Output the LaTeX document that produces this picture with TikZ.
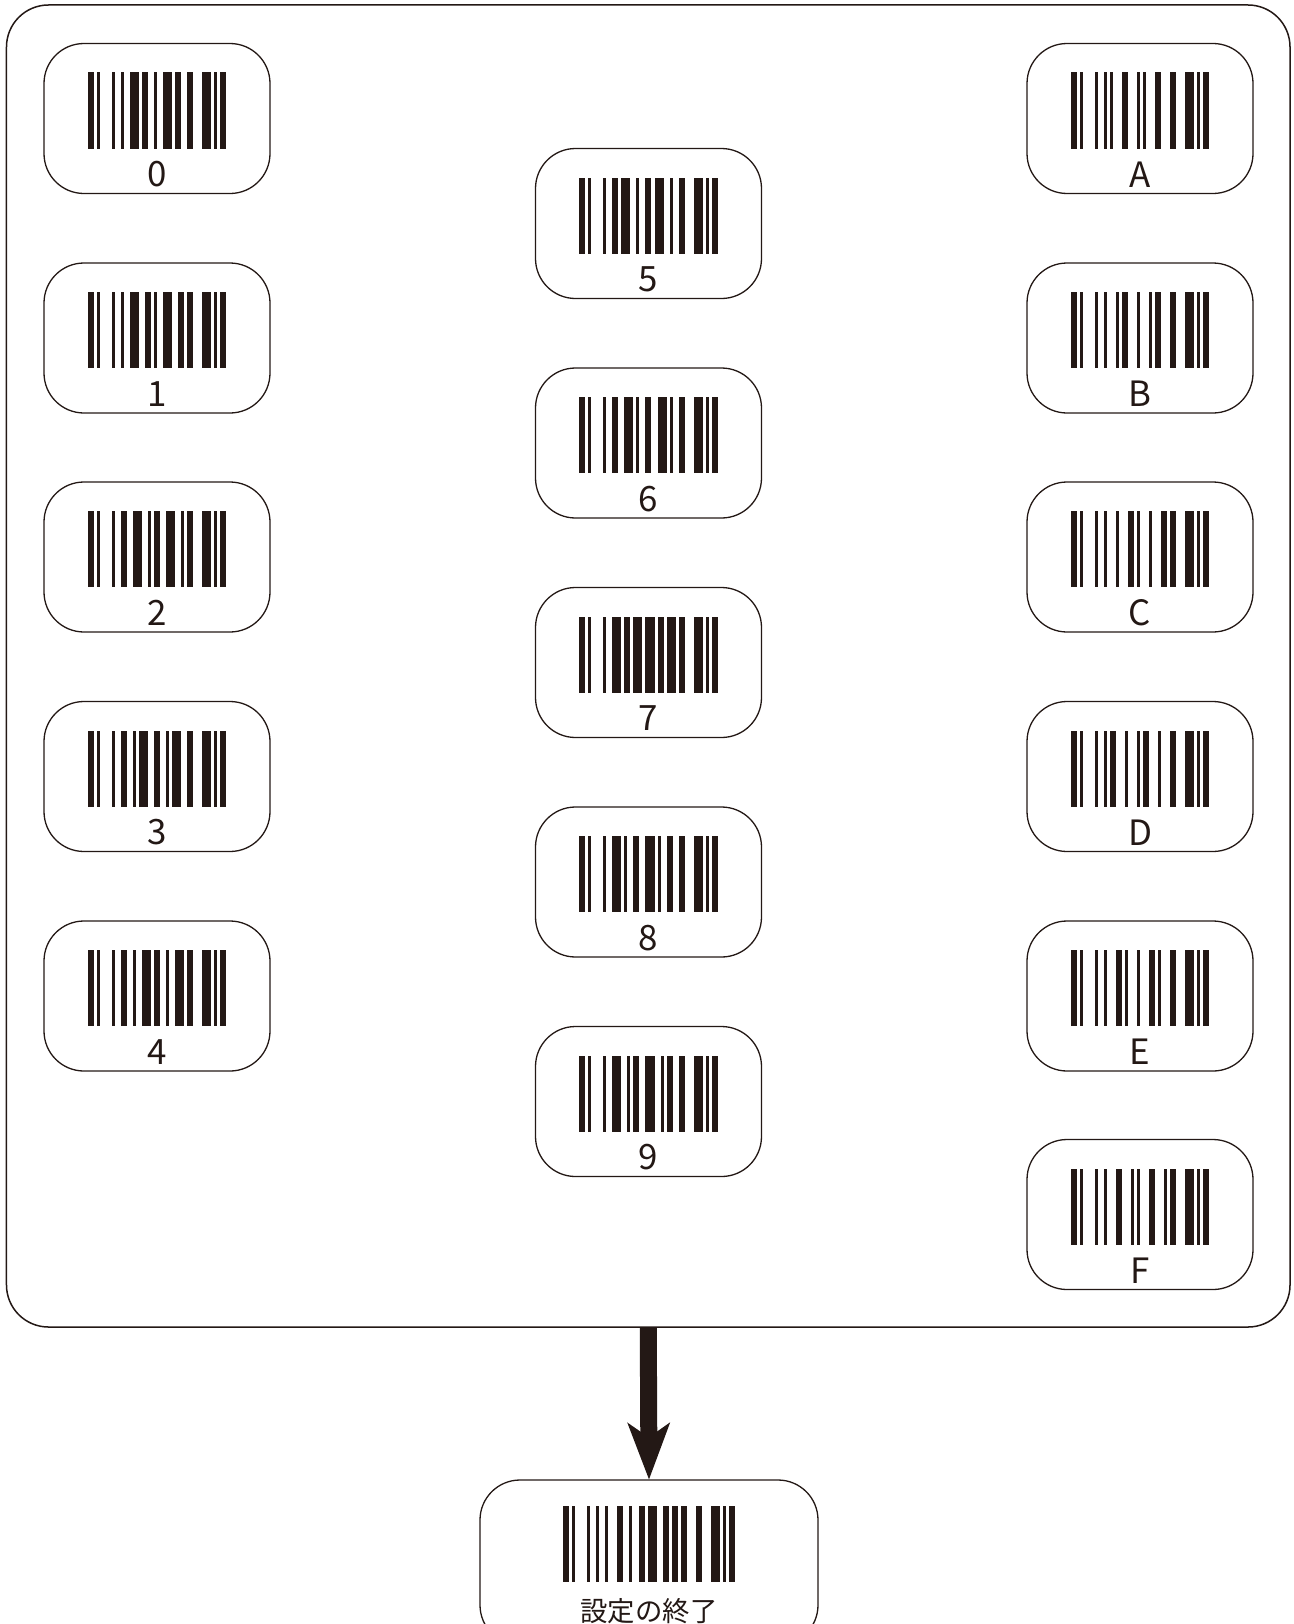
\documentclass[tikz,border=0pt]{standalone}
\usepackage{fontspec}
\setmainfont{Noto Sans CJK JP}
\usepackage{tikz}
\usetikzlibrary{arrows.meta}

\definecolor{ink}{RGB}{35,24,21}

% Code 128 bar/space widths
\def\cStart{2,1,1,4,1,2}
\def\cStop{2,3,3,1,1,1,2}
\def\cZero{1,2,3,1,2,2}
\def\cOne{1,2,3,2,2,1}
\def\cTwo{2,2,3,2,1,1}
\def\cThree{2,2,1,1,3,2}
\def\cFour{2,2,1,2,3,1}
\def\cFive{2,1,3,2,1,2}
\def\cSix{2,2,3,1,1,2}
\def\cSeven{3,1,2,1,3,1}
\def\cEight{3,1,1,2,2,2}
\def\cNine{3,2,1,1,2,2}
\def\cA{1,1,1,3,2,3}
\def\cB{1,3,1,1,2,3}
\def\cC{1,3,1,3,2,1}
\def\cD{1,1,2,3,1,3}
\def\cE{1,3,2,1,1,3}
\def\cF{1,3,2,3,1,1}
\def\cDollar{1,2,1,3,2,2}
\def\cHyphen{1,2,2,1,3,2}
\def\cCheck{2,1,2,1,2,3}

\newcount\barpos
\newcommand\barcode[3]{%
  \global\barpos=0
  \foreach \w [count=\k] in #3 {
    \ifodd\k\relax
      \fill[ink] ({#1+\the\barpos*3.02}, #2) rectangle ++(\w*3.02, 76);
    \fi
    \global\advance\barpos by \w
  }%
}

\begin{document}
\begin{tikzpicture}[x=1bp, y=-1bp,
    panel/.style={draw=ink, line width=1.5bp, rounded corners=42bp,
      minimum width=1283.5bp, minimum height=1322bp},
    codebox/.style={draw=ink, line width=1.3bp, rounded corners=40bp,
      minimum width=226bp, minimum height=150bp},
    codelabel/.style={text=ink, inner sep=0pt, font=\fontsize{35}{38}\selectfont},
    endlabel/.style={text=ink, inner sep=0pt, font=\fontsize{27.5}{30}\selectfont},
    bigarrow/.style={ink, line width=17bp,
      -{Stealth[length=57bp, width=43bp, inset=15bp, line width=0pt]}}]
\useasboundingbox (0,0) rectangle (1293,1624);
\clip (0,0) rectangle (1293,1624);

\node[panel] (panel) at (648.25,666) {};

\foreach \n/\x/\y/\p/\t in {
    b0/157/118.5/\cZero/0, b1/157/338/\cOne/1, b2/157/557/\cTwo/2,
    b3/157/776.5/\cThree/3, b4/157/996/\cFour/4,
    b5/648.5/223.5/\cFive/5, b6/648.5/443/\cSix/6, b7/648.5/662.5/\cSeven/7,
    b8/648.5/882/\cEight/8, b9/648.5/1101.5/\cNine/9,
    bA/1140/118.5/\cA/A, bB/1140/338/\cB/B, bC/1140/557/\cC/C,
    bD/1140/776.5/\cD/D, bE/1140/996/\cE/E, bF/1140/1214.5/\cF/F}{
  \node[codebox] (\n) at (\x,\y) {};
  \edef\barlist{\cStart,\p,\p,\cStop}
  \barcode{\x-69.5}{\y-46}{\barlist}
  \node[codelabel] (\n-t) at (\x,\y+56) {\t};
}

% end of settings
\node[codebox, minimum width=338bp, minimum height=165bp] (endbox) at (649,1562.5) {};
\edef\barlist{\cStart,\cDollar,\cHyphen,\cCheck,\cStop}
\barcode{563}{1506}{\barlist}
\node[endlabel] (endbox-t) at (649,1611) {設定の終了};

\draw[bigarrow] (panel.south) -- (endbox.north);
\end{tikzpicture}
\end{document}
